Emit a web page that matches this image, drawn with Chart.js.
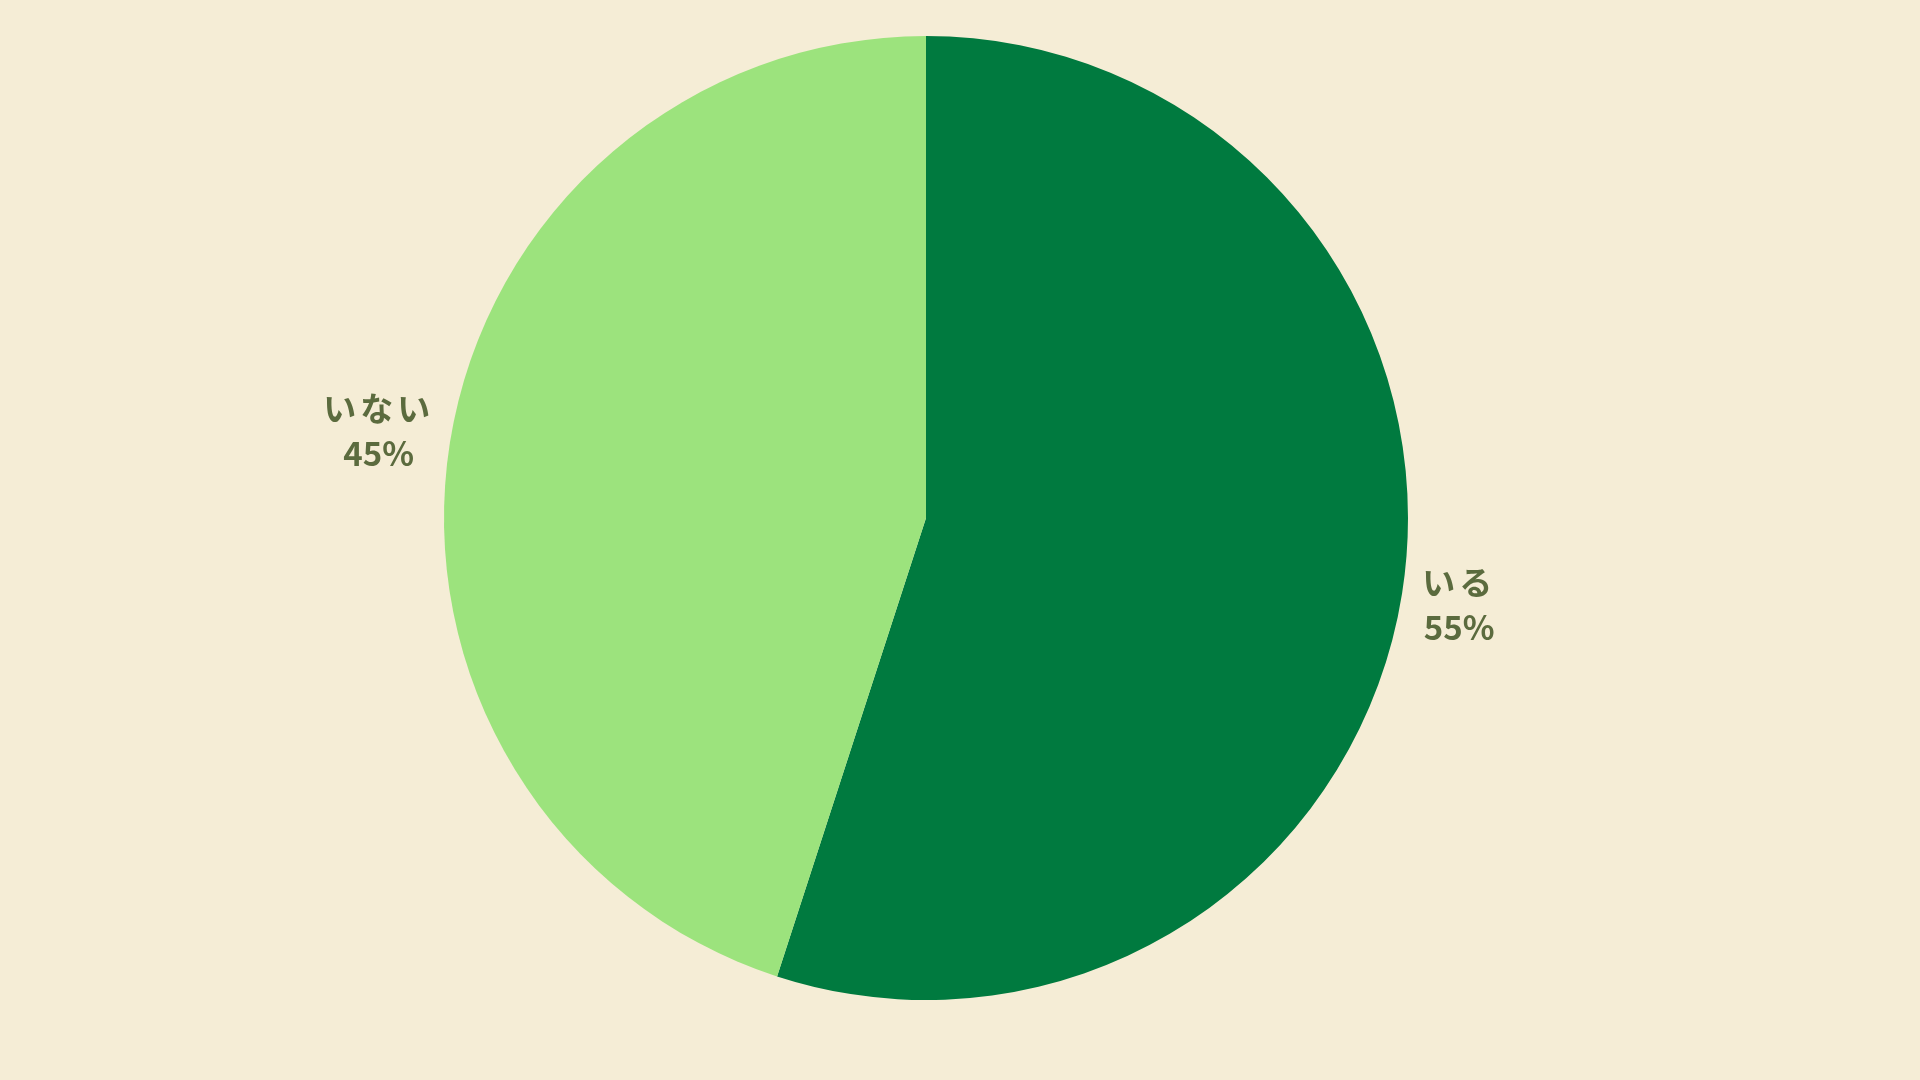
<!DOCTYPE html>
<html>
<head>
<meta charset="utf-8">
<script src="https://cdn.jsdelivr.net/npm/chart.js@4.4.0/dist/chart.umd.min.js"></script>
<style>
  html, body { margin: 0; padding: 0; background: #F5EDD6; }
  #wrap { width: 1920px; height: 1080px; }
</style>
</head>
<body>
<div id="wrap"><canvas id="pieChart"></canvas></div>
<script>
const labels = ['いる', 'いない'];
const values = [55, 45];
const colors = ['#007A3F', '#9CE37D'];

// etiquetas fuera del pastel: nombre y porcentaje
const outsideLabels = {
    id: 'outsideLabels',
    afterDatasetsDraw(chart) {
        const ctx = chart.ctx;
        const meta = chart.getDatasetMeta(0);
        const total = values.reduce((a, b) => a + b, 0);
        ctx.save();
        ctx.fillStyle = '#5B6B3E';
        ctx.font = 'bold 33px "Noto Sans CJK JP"';
        ctx.textBaseline = 'middle';
        ctx.textAlign = 'center';
        meta.data.forEach((arc, i) => {
            const p = arc.getProps(['x', 'y', 'startAngle', 'endAngle', 'outerRadius'], true);
            const mid = (p.startAngle + p.endAngle) / 2;
            const ax = p.x + Math.cos(mid) * (p.outerRadius + 22);
            const ay = p.y + Math.sin(mid) * (p.outerRadius + 75);
            const lines = [labels[i], Math.round(values[i] / total * 100) + '%'];
            const w = Math.max(...lines.map(l => ctx.measureText(l).width));
            const cx = Math.cos(mid) >= 0 ? ax + w / 2 : ax - w / 2;
            const lh = 45;
            lines.forEach((l, j) => {
                ctx.letterSpacing = j === 0 ? '4px' : '0px';
                ctx.fillText(l, cx, ay + (j - (lines.length - 1) / 2) * lh);
            });
        });
        ctx.restore();
    }
};

new Chart(document.getElementById('pieChart'), {
    type: 'pie',
    data: {
        labels: labels,
        datasets: [{
            data: values,
            backgroundColor: colors,
            borderWidth: 0
        }]
    },
    options: {
        responsive: true,
        maintainAspectRatio: false,
        animation: false,
        layout: { padding: { top: 36, bottom: 80, left: 0, right: 68 } },
        plugins: {
            legend: { display: false },
            tooltip: { enabled: false }
        }
    },
    plugins: [outsideLabels]
});
</script>
</body>
</html>
